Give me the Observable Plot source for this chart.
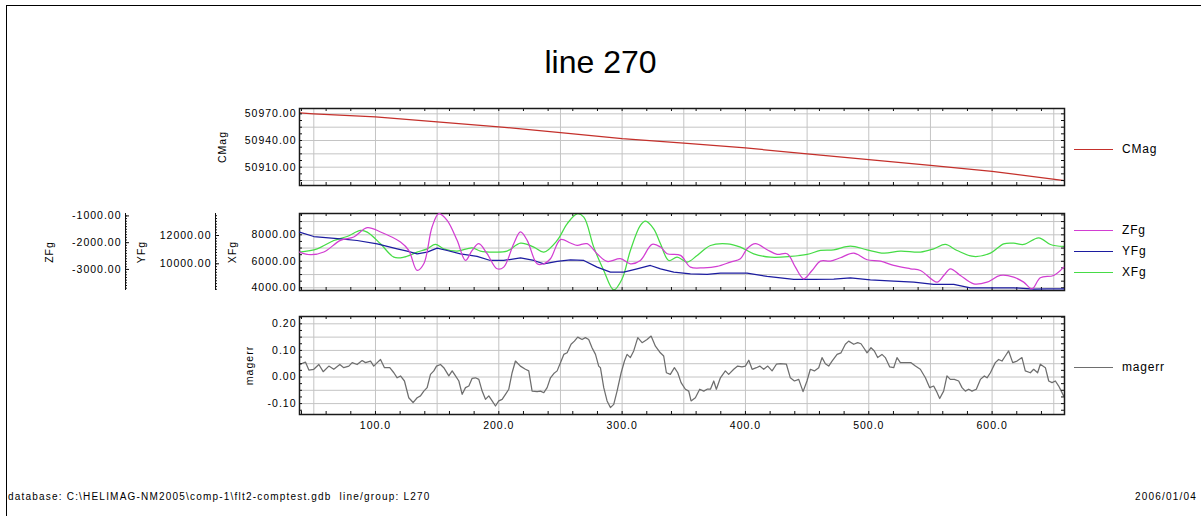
<!DOCTYPE html>
<html><head><meta charset="utf-8">
<script src="https://cdn.jsdelivr.net/npm/d3@7"></script>
<script src="https://cdn.jsdelivr.net/npm/@observablehq/plot@0.6"></script>
<style>
html,body{margin:0;padding:0;background:#fff;}
#root{position:relative;width:1201px;height:516px;overflow:hidden;background:#fff;font-family:"Liberation Sans",Arial,sans-serif;color:#000;}
#border{position:absolute;left:6px;top:5px;width:1210px;height:520px;border-left:1px solid #000;border-top:1px solid #000;box-sizing:border-box;}
.layer{position:absolute;left:0;top:0;}
#title{position:absolute;left:0;width:1201px;top:44px;text-align:center;font-size:32px;line-height:36px;}
.foot{position:absolute;top:490px;font-size:10px;letter-spacing:1.2px;white-space:pre;line-height:14px;}
.leg{position:absolute;left:1074px;height:14px;}
.leg .ln{position:absolute;left:0;top:7px;width:39px;border-top:1.3px solid;}
.leg .tx{position:absolute;left:48px;top:0;font-size:12px;letter-spacing:0.8px;line-height:14px;white-space:nowrap;}
</style></head><body><div id="root"><div id="border"></div><div id="title">line 270</div></div>
<script>
// ---------------- data ----------------
const titleText = "line 270";
const footLeft = "database: C:\\HELIMAG-NM2005\\comp-1\\flt2-comptest.gdb  line/group: L270";
const footRight = "2006/01/04";

const fidDomain = [38.4, 658.7];
const fidGrid = [50,100,150,200,250,300,350,400,450,500,550,600,650];
const fidMinor = [40,60,80,100,120,140,160,180,200,220,240,260,280,300,320,340,360,380,400,420,440,460,480,500,520,540,560,580,600,620,640];
const fidLabels = [100,200,300,400,500,600];

const cmag = [[38.4,50971],[50,50970],[100,50966.6],[150,50961],[200,50955.4],[250,50949],[300,50942],[350,50937],[400,50931.6],[450,50925],[500,50918.5],[550,50912],[600,50905.3],[658.7,50895]];
const cmagDomain = [50889.4, 50976];
const cmagTicks = [50910, 50940, 50970];
const cmagGrid = [50895, 50910, 50925, 50940, 50955, 50970];

const xfg = [[38.4,6692],[52.7,6943],[66.2,7572],[77.0,7874],[87.9,8327],[93.3,8201],[104.1,7321],[114.9,6314],[123.0,6314],[133.8,6692],[141.9,6943],[148.6,7270],[155.4,6943],[166.2,6767],[178.4,7019],[185.1,6767],[195.9,6692],[206.7,6767],[217.6,7371],[228.4,7069],[236.5,6692],[247.3,7572],[255.4,8830],[263.5,9585],[268.9,9333],[277.0,7069],[285.1,5308],[293.2,3849],[300.0,4679],[306.7,6817],[314.8,8704],[318.9,9032],[325.6,8453],[331.1,7321],[337.8,6063],[344.6,6314],[352.7,5937],[360.8,6440],[371.6,7195],[385.1,7321],[395.9,7069],[406.7,6566],[420.3,6314],[436.5,6365],[450.0,6516],[460.8,6817],[471.6,6868],[485.1,7145],[498.6,6868],[512.1,6616],[525.7,6767],[541.9,6692],[552.7,6943],[562.1,7270],[571.6,6817],[585.1,6365],[598.6,6616],[609.4,7321],[617.5,7371],[625.6,7270],[637.8,7774],[647.3,7270],[658.1,7119]];
const xfgDomain = [3796, 9608];
const xfgTicks = [4000, 6000, 8000];
const xfgGrid = [4000, 5000, 6000, 7000, 8000, 9000];

const yfg = [[38.4,12235],[50.0,11929],[71.6,11765],[85.1,11647],[101.4,11412],[117.6,11059],[125.7,10894],[133.8,10706],[141.9,10824],[150.0,11106],[158.1,10941],[168.9,10706],[182.4,10518],[193.2,10235],[204.0,10235],[217.6,10424],[228.4,10235],[236.5,10000],[247.3,10165],[258.1,10282],[268.9,10235],[279.7,9765],[290.5,9412],[301.3,9412],[312.1,9647],[322.9,9882],[331.1,9647],[341.9,9412],[355.4,9294],[368.9,9247],[379.7,9341],[401.3,9341],[417.6,9106],[439.2,8894],[455.4,8894],[471.6,8918],[485.1,9012],[501.3,8871],[520.2,8776],[536.5,8706],[552.7,8541],[568.9,8541],[582.4,8306],[598.6,8306],[617.5,8306],[633.7,8212],[644.5,8235],[658.1,8235]];
const yfgDomain = [8113, 13555];
const yfgTicks = [10000, 12000];

const zfg = [[38.4,-2350],[47.3,-2450],[58.1,-2350],[71.6,-1913],[82.4,-1788],[93.3,-1438],[104.1,-1600],[120.3,-1975],[127.0,-2288],[133.8,-3038],[139.2,-2788],[145.9,-1413],[151.4,-912],[158.1,-1163],[166.2,-1913],[173.0,-2663],[178.4,-2288],[183.8,-2038],[190.5,-2413],[198.6,-2975],[204.0,-2913],[212.1,-2038],[217.6,-1600],[223.0,-1913],[231.1,-2788],[236.5,-2788],[241.9,-2600],[250.0,-1888],[258.1,-2013],[263.5,-2100],[271.6,-2038],[279.7,-2413],[287.8,-2700],[298.6,-2600],[306.7,-2788],[314.8,-2663],[324.3,-2063],[331.1,-2163],[336.5,-2413],[347.3,-2475],[355.4,-2913],[366.2,-2938],[377.0,-2888],[387.8,-2725],[395.9,-2600],[401.3,-2225],[408.1,-2038],[417.6,-2263],[425.7,-2438],[433.8,-2413],[440.5,-2913],[447.3,-3350],[454.0,-3038],[460.8,-2688],[468.9,-2688],[477.0,-2563],[487.8,-2388],[498.6,-2638],[509.4,-2688],[520.2,-2850],[533.8,-2975],[541.9,-3038],[555.4,-3475],[560.8,-3225],[566.2,-2975],[574.3,-3225],[585.1,-3538],[595.9,-3475],[606.7,-3225],[617.5,-3288],[625.6,-3475],[632.4,-3725],[639.1,-3313],[649.9,-3225],[658.1,-2913]];
const zfgDomain = [-3787, -910];
const zfgTicks = [-1000, -2000, -3000];

const magerr = [[38.4,0.047],[43.2,0.056],[46.0,0.026],[50.0,0.029],[54.1,0.047],[57.6,0.02],[62.2,0.041],[66.2,0.029],[71.1,0.047],[74.3,0.035],[78.4,0.041],[81.1,0.054],[85.1,0.047],[89.2,0.062],[91.9,0.054],[96.0,0.06],[98.6,0.041],[101.4,0.054],[104.1,0.066],[107.3,0.035],[111.6,0.035],[114.9,0.016],[117.6,-0.003],[120.3,0.004],[123.5,-0.015],[127.0,-0.078],[130.5,-0.096],[133.8,-0.078],[136.5,-0.071],[139.2,-0.053],[141.9,-0.04],[144.6,0.01],[147.3,0.023],[149.5,0.041],[152.7,0.047],[155.4,0.035],[159.5,0.004],[162.2,0.023],[164.9,0.004],[167.6,-0.015],[170.3,-0.065],[173.0,-0.04],[175.7,-0.034],[178.4,-0.005],[181.1,-0.003],[183.8,-0.009],[186.5,-0.053],[189.2,-0.084],[191.9,-0.071],[194.6,-0.09],[197.3,-0.109],[200.0,-0.09],[202.7,-0.084],[205.4,-0.065],[208.1,-0.046],[210.8,0.016],[213.5,0.06],[217.5,0.041],[221.6,0.029],[224.3,0.023],[227.0,-0.053],[231.1,-0.055],[233.8,-0.053],[236.5,-0.059],[239.2,-0.04],[241.9,-0.003],[244.6,0.013],[247.3,0.023],[250.0,0.054],[252.7,0.085],[255.4,0.091],[258.6,0.123],[261.3,0.135],[264.0,0.15],[267.5,0.141],[270.2,0.148],[272.9,0.141],[275.6,0.11],[278.4,0.085],[281.0,0.041],[282.4,0.035],[285.1,-0.04],[287.8,-0.09],[290.5,-0.115],[293.2,-0.103],[295.9,-0.053],[299.2,0.016],[301.9,0.06],[304.0,0.085],[306.7,0.073],[309.4,0.098],[312.7,0.148],[316.2,0.129],[320.2,0.141],[323.5,0.154],[327.0,0.116],[331.0,0.091],[333.7,0.079],[335.9,0.016],[339.1,0.01],[342.4,0.035],[345.1,0.016],[347.8,-0.021],[351.3,-0.046],[354.0,-0.053],[355.9,-0.09],[359.4,-0.078],[362.9,-0.046],[366.2,-0.053],[368.9,-0.046],[371.6,-0.046],[374.3,-0.015],[376.4,-0.046],[379.7,-0.003],[383.7,0.023],[386.4,0.01],[390.5,0.029],[393.7,0.041],[397.2,0.038],[399.9,0.041],[402.7,0.063],[405.4,0.029],[408.9,0.035],[411.6,0.041],[414.8,0.029],[418.1,0.041],[421.6,0.023],[425.1,0.048],[428.3,0.05],[433.2,0.048],[436.4,-0.003],[439.7,-0.015],[443.2,-0.009],[446.7,-0.055],[449.9,-0.015],[452.6,0.029],[455.9,0.023],[459.4,0.035],[462.1,0.073],[464.8,0.05],[467.5,0.041],[470.2,0.06],[474.3,0.085],[477.5,0.091],[481.0,0.123],[483.7,0.135],[487.8,0.123],[491.0,0.129],[493.7,0.125],[495.9,0.11],[498.6,0.091],[501.8,0.11],[504.5,0.098],[507.2,0.073],[510.7,0.085],[513.4,0.073],[517.0,0.038],[520.2,0.035],[522.9,0.073],[525.6,0.054],[529.7,0.054],[534.3,0.054],[537.8,0.041],[541.8,0.029],[545.9,-0.003],[549.4,-0.04],[552.6,-0.034],[554.8,-0.053],[557.5,-0.081],[560.7,-0.053],[563.4,0.004],[566.1,-0.009],[569.4,-0.009],[572.9,-0.015],[575.6,-0.04],[578.3,-0.053],[581.0,-0.046],[583.7,-0.053],[587.2,-0.046],[590.5,-0.009],[593.7,0.004],[595.9,-0.003],[598.6,0.016],[602.6,0.054],[605.3,0.066],[608.0,0.06],[610.7,0.079],[613.4,0.098],[616.7,0.054],[620.2,0.06],[624.2,0.073],[626.9,0.023],[631.0,0.016],[633.7,0.029],[636.9,0.016],[639.1,0.048],[643.2,0.035],[645.9,-0.015],[648.6,-0.021],[651.3,-0.015],[654.0,-0.034],[658.0,-0.071]];
const magerrDomain = [-0.141, 0.2275];
const magerrTicks = [-0.1, 0, 0.1, 0.2];
const magerrGrid = [-0.1, -0.05, 0, 0.05, 0.1, 0.15, 0.2];

const colors = {CMag: "#c4302b", ZFg: "#d23ed2", YFg: "#1c1ca0", XFg: "#46dc46", magerr: "#6e6e6e"};
const legendItems = [["CMag", 149], ["ZFg", 230], ["YFg", 251], ["XFg", 272], ["magerr", 367]];

// ---------------- layout ----------------
const W = 1201, H = 516, FL = 299, FR = 1064;
const root = document.getElementById("root");
const fontStyle = {background: "transparent", fontFamily: '"Liberation Sans", Arial, sans-serif', fontSize: "10.5px", letterSpacing: "1px", color: "#000", overflow: "visible"};
const GRID = "#c4c4c4";
const loc = d3.formatLocale({decimal: ".", thousands: "", grouping: [3], currency: ["", ""], minus: "-"});
const f2 = loc.format(".2f"), f1 = loc.format(".1f");
const X = d => d[0], Y = d => d[1];

function add(svg) { svg.classList.add("layer"); root.appendChild(svg); }

function minorOf(lo, hi, step) { return d3.range(Math.ceil(lo / step) * step, hi + 1e-9, step); }

function panel({top, bottom, yDomain, grid, ticks, minorStep, label, labelOffset, lines, xAxis, curve = "linear", showY = true, showGrid = true}) {
  const ph = bottom - top, pw = FR - FL;
  const minor = minorOf(yDomain[0], yDomain[1], minorStep);
  const marks = [];
  if (showGrid) {
    marks.push(Plot.ruleX(fidGrid, {x: d => d, stroke: GRID, strokeWidth: 1}));
    marks.push(Plot.ruleY(grid, {y: d => d, stroke: GRID, strokeWidth: 1}));
  }
  for (const [data, color] of lines) marks.push(Plot.line(data, {x: X, y: Y, stroke: color, strokeWidth: 1.25, curve}));
  if (showY) {
    marks.push(Plot.tickX(fidMinor, {x: d => d, insetBottom: ph - 3, stroke: "#111"}));
    marks.push(Plot.tickX(fidMinor, {x: d => d, insetTop: ph - 3, stroke: "#111"}));
    marks.push(Plot.tickY(minor, {y: d => d, insetRight: pw - 3, stroke: "#111"}));
    marks.push(Plot.tickY(minor, {y: d => d, insetLeft: pw - 3, stroke: "#111"}));
    marks.push(Plot.frame({stroke: "#1a1a1a", strokeWidth: 1.5}));
    marks.push(Plot.axisY({anchor: "left", ticks, tickFormat: f2, tickSize: 0, tickPadding: 3, label, labelArrow: "none", labelAnchor: "center", labelOffset}));
  }
  if (xAxis) marks.push(Plot.axisX({anchor: "bottom", ticks: fidLabels, tickFormat: f1, tickSize: 0, tickPadding: 7, label: null}));
  add(Plot.plot({
    width: W, height: H, marginLeft: FL, marginRight: W - FR, marginTop: top, marginBottom: H - bottom,
    style: fontStyle,
    x: {domain: fidDomain, axis: null},
    y: {domain: yDomain, axis: null},
    marks
  }));
}

function auxAxis({left, top, bottom, yDomain, ticks, minorStep, label, labelOffset}) {
  const minor = minorOf(yDomain[0], yDomain[1], minorStep);
  add(Plot.plot({
    width: W, height: H, marginLeft: left, marginRight: W - left - 6, marginTop: top, marginBottom: H - bottom,
    style: fontStyle,
    x: {domain: [0, 6], axis: null},
    y: {domain: yDomain, axis: null},
    marks: [
      Plot.ruleX([0], {stroke: "#111"}),
      Plot.tickY(minor, {y: d => d, insetRight: 4, stroke: "#111"}),
      Plot.tickY(ticks, {y: d => d, insetRight: 2, stroke: "#111"}),
      Plot.axisY({anchor: "left", ticks, tickFormat: f2, tickSize: 0, tickPadding: 4, label, labelArrow: "none", labelAnchor: "center", labelOffset})
    ]
  }));
}

// top panel: CMag
panel({top: 108, bottom: 185, yDomain: cmagDomain, grid: cmagGrid, ticks: cmagTicks, minorStep: 7.5,
  label: "CMag", labelOffset: 81, lines: [[cmag, colors.CMag]]});

// middle panel: XFg axis + grid, then YFg and ZFg overlays
panel({top: 213, bottom: 290, yDomain: xfgDomain, grid: xfgGrid, ticks: xfgTicks, minorStep: 500,
  label: "XFg", labelOffset: 71, lines: [[xfg, colors.XFg]], curve: "catmull-rom"});
panel({top: 213, bottom: 290, yDomain: yfgDomain, grid: [], ticks: [], minorStep: 1e9,
  label: null, lines: [[yfg, colors.YFg]], showY: false, showGrid: false});
panel({top: 213, bottom: 290, yDomain: zfgDomain, grid: [], ticks: [], minorStep: 1e9,
  label: null, lines: [[zfg, colors.ZFg]], curve: "catmull-rom", showY: false, showGrid: false});
auxAxis({left: 215, top: 213, bottom: 290, yDomain: yfgDomain, ticks: yfgTicks, minorStep: 200, label: "YFg", labelOffset: 78});
auxAxis({left: 125, top: 213, bottom: 290, yDomain: zfgDomain, ticks: zfgTicks, minorStep: 100, label: "ZFg", labelOffset: 80});

// bottom panel: magerr
panel({top: 316, bottom: 414, yDomain: magerrDomain, grid: magerrGrid, ticks: magerrTicks, minorStep: 0.025,
  label: "magerr", labelOffset: 54, lines: [[magerr, colors.magerr]], xAxis: true});

// legends
for (const [name, y] of legendItems) {
  const d = document.createElement("div");
  d.className = "leg"; d.style.top = (y - 7) + "px";
  d.innerHTML = `<div class="ln" style="border-color:${colors[name]}"></div><div class="tx">${name}</div>`;
  root.appendChild(d);
}
// footer
const fl = document.createElement("div"); fl.className = "foot"; fl.style.left = "8px"; fl.textContent = footLeft; root.appendChild(fl);
const fr = document.createElement("div"); fr.className = "foot"; fr.style.right = "4px"; fr.textContent = footRight; root.appendChild(fr);
document.getElementById("title").textContent = titleText;
</script></body></html>
